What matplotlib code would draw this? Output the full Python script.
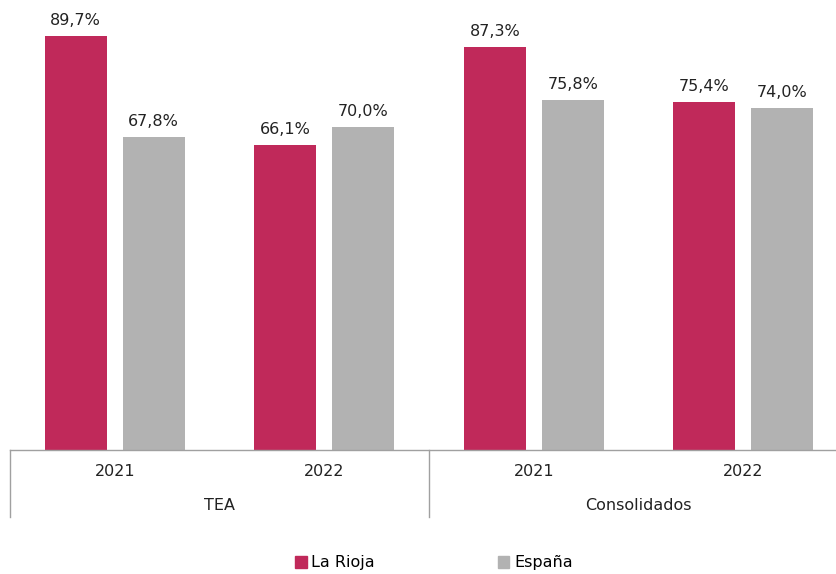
import matplotlib.pyplot as plt
from matplotlib.patches import Patch

# data
groups = ['TEA', 'Consolidados']
years = ['2021', '2022']
la_rioja = [89.7, 66.1, 87.3, 75.4]
espana = [67.8, 70.0, 75.8, 74.0]
series_names = ['La Rioja', 'España']

rioja_col = '#C0295A'
espana_col = '#B2B2B2'
axis_col = '#A0A0A0'

plt.rcParams['font.family'] = ['DejaVu Sans']

fig = plt.figure(figsize=(8.37, 5.74), dpi=100)
# plot area runs a little past the right edge of the figure
ax = fig.add_axes([10 / 837, 124 / 574, 838 / 837, 450 / 574])

n = len(la_rioja)
x = list(range(n))
w = 0.296
off = 0.186

bars1 = ax.bar([i - off for i in x], la_rioja, w, color=rioja_col)
bars2 = ax.bar([i + off for i in x], espana, w, color=espana_col)

for bars, vals in ((bars1, la_rioja), (bars2, espana)):
    for b, v in zip(bars, vals):
        ax.annotate(f'{v:.1f}%'.replace('.', ','),
                    (b.get_x() + b.get_width() / 2, v),
                    xytext=(0, 6), textcoords='offset points',
                    ha='center', va='bottom', fontsize=11.5, color='#222222')

ax.set_xlim(-0.5, n - 0.5)
ax.set_ylim(0, 97.5)
ax.set_yticks([])
for s in ('left', 'right', 'top'):
    ax.spines[s].set_visible(False)
ax.spines['bottom'].set_color(axis_col)
ax.spines['bottom'].set_linewidth(1)

# two-level category axis
ax.set_xticks(x)
ax.set_xticklabels(years * len(groups), fontsize=11.5, color='#222222')
ax.tick_params(axis='x', length=0, pad=10)

per = len(years)
for g, name in enumerate(groups):
    cx = g * per + (per - 1) / 2
    ax.annotate(name, (cx, 0), xycoords=('data', 'axes fraction'),
                xytext=(0, -40), textcoords='offset points',
                ha='center', va='center', fontsize=11.5, color='#222222')
for k in range(len(groups) + 1):
    xs = k * per - 0.5
    ax.plot([xs, xs], [0, -0.149], transform=ax.get_xaxis_transform(),
            color=axis_col, lw=1, clip_on=False)

handles = [Patch(color=rioja_col), Patch(color=espana_col)]
fig.legend(handles, series_names, loc='center', bbox_to_anchor=(434 / 837, 1 - 563 / 574),
           ncol=2, frameon=False, fontsize=11.5, handlelength=0.7, handleheight=0.7,
           handletextpad=0.3, columnspacing=7.7)

fig.savefig('out.png', dpi=100)
